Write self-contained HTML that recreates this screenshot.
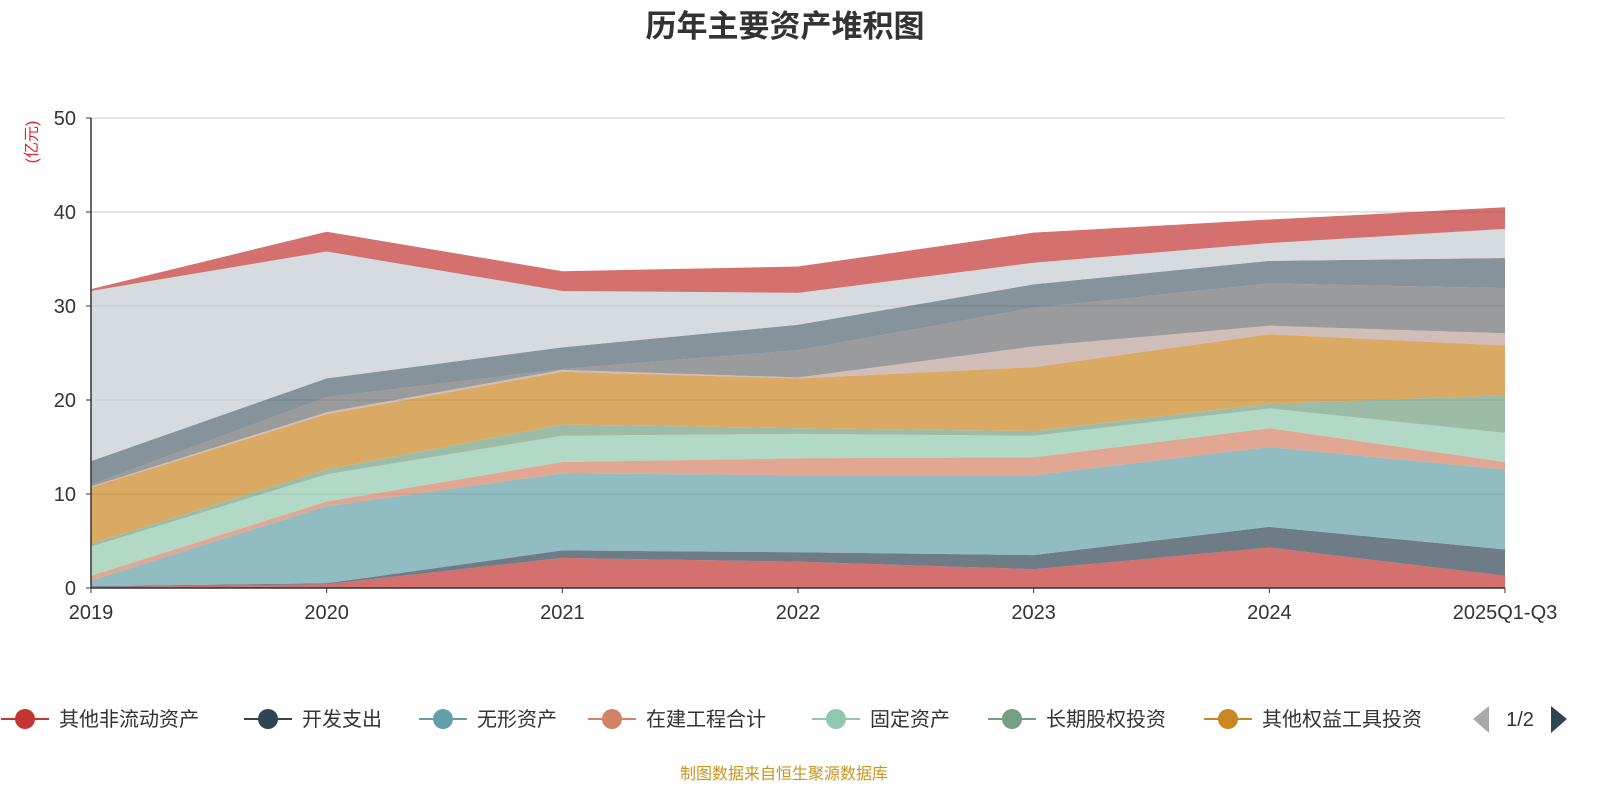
<!DOCTYPE html>
<html><head><meta charset="utf-8"><style>
body{margin:0;width:1600px;height:800px;background:#fff;overflow:hidden;font-family:"Liberation Sans","Noto Sans CJK SC",sans-serif}
</style></head><body>
<svg id="chart" width="1600" height="800" xmlns="http://www.w3.org/2000/svg" style="font-family:'Liberation Sans','Noto Sans CJK SC',sans-serif">
<text x="785" y="37" text-anchor="middle" font-size="31" font-weight="bold" fill="#333">历年主要资产堆积图</text>
<text transform="translate(37,142) rotate(-90)" text-anchor="middle" font-size="16" fill="#e0262b">(亿元)</text>
<g id="grid"></g><g id="areas"></g><g id="axes"></g><g id="legend"></g>
<text x="784" y="779" text-anchor="middle" font-size="16" fill="#c8961e">制图数据来自恒生聚源数据库</text>
</svg>
<script>
const categories=["2019","2020","2021","2022","2023","2024","2025Q1-Q3"];
const yTicks=[0,10,20,30,40,50];
const seriesNames=["其他非流动资产","开发支出","无形资产","在建工程合计","固定资产","长期股权投资","其他权益工具投资","商誉","长期待摊费用","递延所得税资产","使用权资产","其他资产"];
const colors=["#c23531","#2f4554","#61a0a8","#d48265","#91c7ae","#749f83","#ca8622","#bda29a","#6e7074","#546570","#c4ccd3","#c23531"];
const s1=[0.1,0.4,3.2,2.8,2.0,4.3,1.3];
const s2=[0.1,0.1,0.8,1.0,1.5,2.2,2.8];
const s3=[0.6,8.2,8.2,8.2,8.5,8.5,8.5];
const s4=[0.5,0.5,1.2,1.8,1.9,2.0,0.8];
const s5=[3.1,2.9,2.8,2.6,2.3,2.1,3.1];
const s6=[0.3,0.5,1.2,0.6,0.5,0.5,4.0];
const s7=[6.0,5.9,5.6,5.3,6.8,7.4,5.3];
const s8=[0.1,0.2,0.2,0.1,2.2,0.9,1.3];
const s9=[0.2,1.6,0.1,2.9,4.1,4.5,4.8];
const s10=[2.5,2.0,2.3,2.7,2.5,2.4,3.2];
const s11=[18.1,13.5,6.0,3.4,2.3,1.9,3.1];
const s12=[0.2,2.1,2.1,2.8,3.2,2.5,2.3];
const series=[s1,s2,s3,s4,s5,s6,s7,s8,s9,s10,s11,s12];
const NS="http://www.w3.org/2000/svg";
const X0=91,X1=1505,Y0=588,Y1=118,YMAX=50;
const x=i=>X0+(X1-X0)*i/(categories.length-1);
const y=v=>Y0-(Y0-Y1)*v/YMAX;
function mk(t,a,p){const e=document.createElementNS(NS,t);for(const k in a)e.setAttribute(k,a[k]);p.appendChild(e);return e;}
const grid=document.getElementById('grid'),axes=document.getElementById('axes'),areas=document.getElementById('areas'),legend=document.getElementById('legend');
yTicks.forEach(t=>{
 if(t>0){const g=mk('line',{x1:X0,x2:X1,y1:y(t),y2:y(t),stroke:'#c8c8c8','stroke-width':1},grid);
 
 }
 const l=mk('text',{x:X0-15,y:y(t)+7,'text-anchor':'end','font-size':20,fill:'#333'},axes);l.textContent=t;
 
 
 mk('line',{x1:X0-5,x2:X0,y1:y(t),y2:y(t),stroke:'#333'},axes);
});
let base=categories.map(()=>0);
series.forEach((s,k)=>{
 const top=base.map((b,i)=>b+s[i]);
 let d='M'+categories.map((c,i)=>x(i)+','+y(top[i])).join('L');
 for(let i=categories.length-1;i>=0;i--)d+='L'+x(i)+','+y(base[i]);
 const p=mk('path',{d:d+'Z',fill:colors[k],'fill-opacity':k>=10?(k==10?0.7:0.7):0.7},areas);
 
 
 base=top;
});
mk('line',{x1:X0,x2:X0,y1:Y1,y2:Y0,stroke:'#333','stroke-width':1.5},axes);
mk('line',{x1:X0,x2:X1,y1:Y0,y2:Y0,stroke:'#333','stroke-width':1.5},axes);
categories.forEach((c,i)=>{
 mk('line',{x1:x(i),x2:x(i),y1:Y0,y2:Y0+5,stroke:'#333'},axes);
 const t=mk('text',{x:x(i),y:Y0+31,'text-anchor':'middle','font-size':20,fill:'#333'},axes);t.textContent=c;
 
 
});
const legX=[25,268,443,612,836,1012,1228];
legX.forEach((lx,k)=>{
 const g=mk('g',{},legend);
 
 
 mk('line',{x1:lx-24,x2:lx+24,y1:719,y2:719,stroke:colors[k],'stroke-width':2},g);
 mk('circle',{cx:lx,cy:719,r:10,fill:colors[k]},g);
 const t=mk('text',{x:lx+34,y:726,'font-size':20,fill:'#333'},g);t.textContent=seriesNames[k];
});
const pl=mk('path',{d:'M1489,706L1473,719L1489,733Z',fill:'#aaa'},legend);


const pg=mk('text',{x:1520,y:726,'text-anchor':'middle','font-size':20,fill:'#333'},legend);pg.textContent='1/2';


const pn=mk('path',{d:'M1551,706L1567,719L1551,733Z',fill:'#2f4554'},legend);


</script>
</body></html>
